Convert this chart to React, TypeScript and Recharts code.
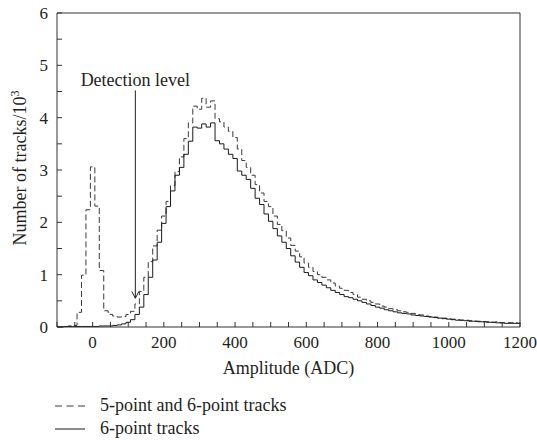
import { LineChart, Line, XAxis, YAxis, ReferenceLine } from "recharts";

// histogram bins: centres every 12.5 ADC from -100 to 1200
const BIN_CENTERS = Array.from({ length: 105 }, (_, i) => -100 + i * 12.5);

// counts in units of 10^3 tracks
const fiveAndSixPoint = [
  0.01, 0.01, 0.01, 0.02, 0.03, 0.28, 0.99, 2.24, 3.06, 2.31,
  1.08, 0.31, 0.24, 0.21, 0.19, 0.2, 0.24, 0.3, 0.44, 0.68,
  0.95, 1.25, 1.55, 1.85, 2.12, 2.4, 2.7, 2.97, 3.25, 3.6,
  3.9, 4.22, 4.16, 4.37, 4.2, 4.32, 3.98, 3.92, 3.82, 3.74,
  3.62, 3.4, 3.18, 3.05, 2.9, 2.72, 2.56, 2.4, 2.3, 2.12,
  1.96, 1.84, 1.7, 1.56, 1.45, 1.34, 1.22, 1.14, 1.06, 1.0,
  0.95, 0.9, 0.84, 0.78, 0.74, 0.7, 0.66, 0.62, 0.57, 0.53,
  0.5, 0.47, 0.44, 0.4, 0.38, 0.35, 0.33, 0.31, 0.29, 0.28,
  0.26, 0.24, 0.23, 0.21, 0.2, 0.19, 0.17, 0.17, 0.16, 0.15,
  0.14, 0.13, 0.13, 0.12, 0.11, 0.11, 0.1, 0.1, 0.09, 0.1,
  0.08, 0.08, 0.07, 0.08, 0.07,
];

const sixPoint = [
  0, 0, 0.01, 0.01, 0.01, 0.01, 0.01, 0.01, 0.01, 0.01,
  0.02, 0.02, 0.02, 0.03, 0.04, 0.06, 0.09, 0.14, 0.24, 0.38,
  0.62, 0.95, 1.28, 1.62, 1.98, 2.3, 2.6, 2.9, 3.05, 3.3,
  3.55, 3.82, 3.8, 3.88, 3.82, 3.9, 3.56, 3.5, 3.4, 3.3,
  3.22, 2.98, 2.9, 2.82, 2.65, 2.46, 2.34, 2.16, 2.02, 1.88,
  1.74, 1.62, 1.5, 1.36, 1.24, 1.14, 1.04, 0.98, 0.9, 0.85,
  0.8, 0.75, 0.7, 0.66, 0.62, 0.58, 0.56, 0.53, 0.5, 0.47,
  0.44, 0.41, 0.38, 0.36, 0.33, 0.31, 0.29, 0.27, 0.26, 0.25,
  0.23, 0.22, 0.21, 0.2, 0.19, 0.18, 0.17, 0.16, 0.15, 0.14,
  0.13, 0.13, 0.12, 0.11, 0.11, 0.1, 0.1, 0.09, 0.09, 0.08,
  0.08, 0.07, 0.08, 0.07, 0.07,
];

const xTicks = [
  -100, -50, 0, 50, 100, 150, 200, 250, 300, 350, 400, 450, 500, 550,
  600, 650, 700, 750, 800, 850, 900, 950, 1000, 1050, 1100, 1150, 1200,
];
const xLabelled = [0, 200, 400, 600, 800, 1000, 1200];
const yTicks = [0, 0.5, 1, 1.5, 2, 2.5, 3, 3.5, 4, 4.5, 5, 5.5, 6];
const yLabelled = [0, 1, 2, 3, 4, 5, 6];

// detection level arrow (ADC, and its top / tip in 10^3 tracks)
const detectionLevel = 120;
const arrowTop = 4.52;
const arrowTip = 0.55;

const data = BIN_CENTERS.map((x, i) => ({
  x,
  both: fiveAndSixPoint[i],
  six: sixPoint[i],
}));

const FONT = "'Liberation Serif', 'DejaVu Serif', serif";
const INK = "#231f20";
const AXIS = "#333";
const tickStyle = { fontFamily: FONT, fontSize: 17, fill: INK };
const labelStyle = { fontFamily: FONT, fontSize: 18, fill: INK };

export default function App() {
  return (
    <div
      style={{
        position: "fixed",
        left: 0,
        top: 0,
        width: 537,
        height: 445,
        background: "#fff",
        fontFamily: FONT,
      }}
    >
      <LineChart width={537} height={445} data={data} margin={{ top: 12, right: 16, bottom: 88, left: 0 }}>
        <XAxis
          dataKey="x"
          type="number"
          domain={[-100, 1200]}
          allowDataOverflow
          ticks={xTicks}
          interval={0}
          tickFormatter={(v: number) => (xLabelled.includes(v) ? String(v) : "")}
          tickSize={-5}
          tickMargin={14}
          height={30}
          stroke={AXIS}
          tick={tickStyle}
          label={{
            value: "Amplitude (ADC)",
            position: "bottom",
            offset: 4,
            style: labelStyle,
          }}
        />
        <XAxis
          xAxisId="top"
          orientation="top"
          dataKey="x"
          type="number"
          domain={[-100, 1200]}
          allowDataOverflow
          ticks={xTicks}
          interval={0}
          tick={false}
          tickSize={-5}
          height={1}
          stroke={AXIS}
        />
        <YAxis
          type="number"
          domain={[0, 6]}
          ticks={yTicks}
          interval={0}
          tickFormatter={(v: number) => (yLabelled.includes(v) ? String(v) : "")}
          tickSize={-5}
          tickMargin={14}
          width={57}
          stroke={AXIS}
          tick={tickStyle}
          label={{
            content: () => (
              <text
                x={26}
                y={168}
                transform="rotate(-90, 26, 168)"
                textAnchor="middle"
                style={labelStyle}
              >
                Number of tracks/10
                <tspan dy={-7} fontSize={12}>
                  3
                </tspan>
              </text>
            ),
          }}
        />
        <YAxis
          yAxisId="right"
          orientation="right"
          type="number"
          domain={[0, 6]}
          ticks={yTicks}
          interval={0}
          tick={false}
          tickSize={-5}
          width={1}
          stroke={AXIS}
        />
        <Line
          type="step"
          dataKey="both"
          stroke="#3a3a3a"
          strokeWidth={1}
          strokeDasharray="6 3"
          dot={false}
          isAnimationActive={false}
        />
        <Line
          type="step"
          dataKey="six"
          stroke="#1a1a1a"
          strokeWidth={1}
          dot={false}
          isAnimationActive={false}
        />
        <ReferenceLine
          segment={[
            { x: detectionLevel, y: arrowTop },
            { x: detectionLevel, y: arrowTip },
          ]}
          stroke={INK}
          strokeWidth={1}
          label={{
            value: "Detection level",
            position: "top",
            offset: 4,
            style: labelStyle,
          }}
        />
        <ReferenceLine
          segment={[
            { x: detectionLevel - 10, y: arrowTip + 0.13 },
            { x: detectionLevel, y: arrowTip },
          ]}
          stroke={INK}
          strokeWidth={1}
        />
        <ReferenceLine
          segment={[
            { x: detectionLevel + 10, y: arrowTip + 0.13 },
            { x: detectionLevel, y: arrowTip },
          ]}
          stroke={INK}
          strokeWidth={1}
        />
      </LineChart>

      <div style={{ position: "absolute", left: 55, top: 394, fontSize: 18, color: INK, lineHeight: "23px" }}>
        <div style={{ display: "flex", alignItems: "center", height: 23 }}>
          <svg width={30} height={4} style={{ marginRight: 15 }}>
            <line x1={0} y1={2} x2={30} y2={2} stroke="#3a3a3a" strokeWidth={1} strokeDasharray="7 4.5" />
          </svg>
          <span>5-point and 6-point tracks</span>
        </div>
        <div style={{ display: "flex", alignItems: "center", height: 23 }}>
          <svg width={30} height={4} style={{ marginRight: 15 }}>
            <line x1={0} y1={2} x2={30} y2={2} stroke="#1a1a1a" strokeWidth={1} />
          </svg>
          <span>6-point tracks</span>
        </div>
      </div>
    </div>
  );
}
